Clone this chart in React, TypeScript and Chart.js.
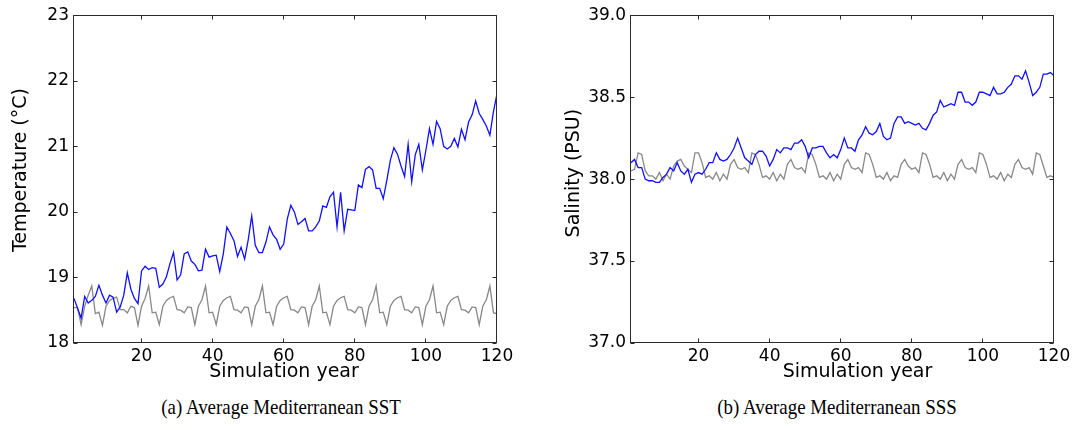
import React, { useEffect, useRef } from "react";
import { Chart, registerables } from "chart.js";

Chart.register(...registerables);

// ---------- data ----------
const years: number[] = Array.from({ length: 120 }, (_, i) => i + 1);
const xTickValues = [20, 40, 60, 80, 100, 120];
const tempTickValues = [18, 19, 20, 21, 22, 23];
const salTickValues = [37.0, 37.5, 38.0, 38.5, 39.0];

// Simulation SST (blue)
const sstSim = [
  18.68, 18.53, 18.38, 18.71, 18.61, 18.65, 18.71, 18.88, 18.73, 18.61,
  18.73, 18.70, 18.47, 18.55, 18.73, 19.07, 18.82, 18.68, 18.60, 19.10,
  19.17, 19.12, 19.15, 19.14, 18.85, 18.90, 19.01, 19.21, 19.38, 18.96,
  19.04, 19.36, 19.39, 19.25, 19.20, 19.10, 19.11, 19.43, 19.31, 19.33,
  19.34, 19.09, 19.36, 19.77, 19.67, 19.56, 19.32, 19.46, 19.28, 19.57,
  19.94, 19.49, 19.38, 19.38, 19.54, 19.77, 19.65, 19.58, 19.43, 19.51,
  19.89, 20.10, 20.00, 19.81, 19.85, 19.90, 19.71, 19.71, 19.77, 19.86,
  20.09, 20.07, 20.23, 20.30, 19.77, 20.30, 19.71, 20.04, 20.03, 20.02,
  20.41, 20.37, 20.65, 20.69, 20.64, 20.36, 20.36, 20.20, 20.48, 20.79,
  20.98, 20.88, 20.70, 20.54, 21.03, 20.46, 20.87, 21.03, 20.64, 20.94,
  21.27, 21.03, 21.38, 21.27, 21.00, 20.96, 21.00, 21.12, 20.99, 21.26,
  21.10, 21.37, 21.48, 21.69, 21.50, 21.41, 21.31, 21.17, 21.53, 21.80,
];

// Control SST (gray)
const sstCtrl = [
  18.54, 18.54, 18.28, 18.56, 18.73, 18.87, 18.45, 18.47, 18.27, 18.56,
  18.65, 18.68, 18.70, 18.51, 18.51, 18.46, 18.56, 18.54, 18.27, 18.56,
  18.68, 18.87, 18.46, 18.47, 18.28, 18.56, 18.65, 18.69, 18.71, 18.51,
  18.50, 18.46, 18.55, 18.54, 18.28, 18.56, 18.66, 18.87, 18.46, 18.47,
  18.28, 18.56, 18.65, 18.69, 18.71, 18.51, 18.50, 18.46, 18.55, 18.54,
  18.28, 18.56, 18.66, 18.87, 18.46, 18.47, 18.28, 18.56, 18.65, 18.69,
  18.71, 18.51, 18.50, 18.46, 18.55, 18.54, 18.28, 18.56, 18.66, 18.87,
  18.46, 18.47, 18.28, 18.56, 18.65, 18.69, 18.71, 18.51, 18.50, 18.46,
  18.55, 18.54, 18.28, 18.56, 18.66, 18.87, 18.46, 18.47, 18.28, 18.56,
  18.65, 18.69, 18.71, 18.51, 18.50, 18.46, 18.55, 18.54, 18.28, 18.56,
  18.66, 18.87, 18.46, 18.47, 18.28, 18.56, 18.65, 18.69, 18.71, 18.51,
  18.50, 18.46, 18.55, 18.54, 18.28, 18.56, 18.66, 18.87, 18.46, 18.45,
];

// Simulation SSS (blue)
const sssSim = [
  38.10, 38.12, 38.07, 38.07, 38.00, 37.99, 37.99, 37.98, 37.98, 38.01,
  38.03, 38.07, 38.05, 38.10, 38.05, 38.03, 38.06, 37.98, 38.03, 38.04,
  38.03, 38.06, 38.10, 38.10, 38.16, 38.12, 38.11, 38.12, 38.15, 38.19,
  38.25, 38.19, 38.13, 38.11, 38.09, 38.15, 38.17, 38.17, 38.14, 38.08,
  38.12, 38.18, 38.16, 38.19, 38.19, 38.18, 38.22, 38.22, 38.24, 38.20,
  38.13, 38.19, 38.19, 38.20, 38.20, 38.16, 38.13, 38.15, 38.13, 38.18,
  38.25, 38.19, 38.19, 38.17, 38.24, 38.27, 38.32, 38.28, 38.27, 38.29,
  38.34, 38.26, 38.24, 38.25, 38.34, 38.38, 38.38, 38.34, 38.35, 38.34,
  38.33, 38.34, 38.31, 38.30, 38.34, 38.39, 38.41, 38.48, 38.44, 38.45,
  38.46, 38.45, 38.53, 38.53, 38.47, 38.47, 38.45, 38.47, 38.53, 38.53,
  38.52, 38.51, 38.56, 38.52, 38.52, 38.53, 38.56, 38.58, 38.63, 38.63,
  38.61, 38.66, 38.59, 38.51, 38.53, 38.56, 38.64, 38.64, 38.65, 38.63,
];

// Control SSS (gray)
const sssCtrl = [
  38.05, 38.06, 38.16, 38.15, 38.05, 38.02, 38.02, 38.00, 38.04, 37.99,
  38.03, 38.00, 38.08, 38.11, 38.12, 38.08, 38.06, 38.04, 38.16, 38.16,
  38.10, 38.01, 38.02, 38.00, 38.04, 37.99, 38.03, 38.00, 38.09, 38.12,
  38.07, 38.06, 38.07, 38.04, 38.16, 38.15, 38.09, 38.01, 38.02, 38.00,
  38.04, 37.99, 38.03, 38.00, 38.09, 38.12, 38.07, 38.06, 38.07, 38.04,
  38.16, 38.15, 38.09, 38.01, 38.02, 38.00, 38.04, 37.99, 38.03, 38.00,
  38.09, 38.12, 38.07, 38.06, 38.07, 38.04, 38.16, 38.15, 38.09, 38.01,
  38.02, 38.00, 38.04, 37.99, 38.02, 38.01, 38.09, 38.12, 38.08, 38.06,
  38.07, 38.04, 38.16, 38.15, 38.09, 38.01, 38.02, 38.00, 38.04, 37.99,
  38.03, 38.00, 38.09, 38.12, 38.07, 38.06, 38.07, 38.04, 38.16, 38.15,
  38.09, 38.01, 38.02, 38.00, 38.04, 37.99, 38.03, 38.01, 38.09, 38.12,
  38.07, 38.06, 38.07, 38.03, 38.16, 38.15, 38.08, 38.01, 38.02, 38.01,
];

// ---------- plugins ----------
const frameTicksPlugin = {
  id: "frameTicks",
  afterDatasetsDraw(chart: any) {
    const { ctx, chartArea: a, scales } = chart;
    const L = Math.round(a.left) - 0.5;
    const R = Math.round(a.right) - 0.5;
    const T = Math.round(a.top) + 0.5;
    const B = Math.round(a.bottom) - 0.5;
    ctx.save();
    ctx.strokeStyle = "#2a2a2a";
    ctx.lineWidth = 1;
    ctx.strokeRect(L, T, R - L, B - T);
    ctx.beginPath();
    for (const t of scales.x.ticks) {
      const x = Math.round(scales.x.getPixelForValue(t.value)) - 0.5;
      ctx.moveTo(x, B);
      ctx.lineTo(x, B - 4);
      ctx.moveTo(x, T);
      ctx.lineTo(x, T + 4);
    }
    for (const t of scales.y.ticks) {
      const y = Math.round(scales.y.getPixelForValue(t.value)) + 0.5;
      ctx.moveTo(L, y);
      ctx.lineTo(L + 4, y);
      ctx.moveTo(R, y);
      ctx.lineTo(R - 4, y);
    }
    ctx.stroke();
    ctx.restore();
  },
};

const axisTitlesPlugin = {
  id: "axisTitles",
  afterDraw(chart: any, _args: any, opts: any) {
    const { ctx, chartArea: a } = chart;
    ctx.save();
    ctx.fillStyle = "#000";
    ctx.font = `${opts.size}px "DejaVu Sans"`;
    ctx.textAlign = "center";
    ctx.textBaseline = "alphabetic";
    ctx.fillText(opts.xText, (a.left + a.right) / 2 + opts.xdx, a.bottom + opts.xdy);
    ctx.translate(opts.yx, (a.top + a.bottom) / 2 + opts.ydy);
    ctx.rotate(-Math.PI / 2);
    ctx.fillText(opts.yText, 0, 0);
    ctx.restore();
  },
};

type PanelProps = {
  sim: number[];
  ctrl: number[];
  yMin: number;
  yMax: number;
  yTicks: number[];
  decimals: number;
  yTitle: string;
  width: number;
  height: number;
  axisWidth: number;
  rightPad: number;
  xdx: number;
  yx: number;
  ydy: number;
};

const TICK_FONT = { family: "'DejaVu Sans'", size: 17 };
const PLOT_TOP = 15;
const PLOT_BOTTOM = 343;

function Panel(p: PanelProps) {
  const ref = useRef<HTMLCanvasElement>(null);
  useEffect(() => {
    if (!ref.current) return;
    const chart = new Chart(ref.current, {
      type: "line",
      data: {
        datasets: [
          {
            data: years.map((x, i) => ({ x, y: p.sim[i] })),
            borderColor: "#1010ff",
            borderWidth: 1.3,
            pointRadius: 0,
            tension: 0,
            fill: false,
          },
          {
            data: years.map((x, i) => ({ x, y: p.ctrl[i] })),
            borderColor: "#888888",
            borderWidth: 1.3,
            pointRadius: 0,
            tension: 0,
            fill: false,
          },
        ],
      },
      options: {
        responsive: false,
        maintainAspectRatio: false,
        animation: false,
        devicePixelRatio: 1,
        events: [],
        layout: { padding: { top: PLOT_TOP, right: p.rightPad, left: 0, bottom: 0 } },
        plugins: {
          legend: { display: false },
          tooltip: { enabled: false },
          axisTitles: {
            size: 19,
            xText: "Simulation year",
            xdx: p.xdx,
            xdy: 34,
            yText: p.yTitle,
            yx: p.yx,
            ydy: p.ydy,
          },
        } as any,
        scales: {
          x: {
            type: "linear",
            min: 1,
            max: 120,
            grid: { display: false, drawTicks: false },
            border: { display: false },
            afterBuildTicks: (s: any) => {
              s.ticks = xTickValues.map((v) => ({ value: v }));
            },
            afterFit: (s: any) => {
              s.height = p.height - PLOT_BOTTOM;
            },
            ticks: {
              font: TICK_FONT,
              color: "#000",
              padding: 3,
              maxRotation: 0,
              autoSkip: false,
              callback: (v: any) => String(v),
            },
          },
          y: {
            type: "linear",
            min: p.yMin,
            max: p.yMax,
            grid: { display: false, drawTicks: false },
            border: { display: false },
            afterBuildTicks: (s: any) => {
              s.ticks = p.yTicks.map((v) => ({ value: v }));
            },
            afterFit: (s: any) => {
              s.width = p.axisWidth;
            },
            ticks: {
              font: TICK_FONT,
              color: "#000",
              padding: 5,
              autoSkip: false,
              callback: (v: any) => Number(v).toFixed(p.decimals),
            },
          },
        },
      },
      plugins: [frameTicksPlugin, axisTitlesPlugin],
    });
    return () => chart.destroy();
  }, []);
  return (
    <canvas
      ref={ref}
      width={p.width}
      height={p.height}
      style={{ width: p.width, height: p.height, display: "block" }}
    />
  );
}

const captionStyle: React.CSSProperties = {
  position: "absolute",
  top: 395,
  transform: "translateX(-50%) scaleX(0.9)",
  whiteSpace: "nowrap",
  fontFamily: "'Liberation Serif', 'Times New Roman', serif",
  fontSize: 21,
  lineHeight: "24px",
  color: "#000",
};

export default function App() {
  return (
    <div
      style={{
        position: "fixed",
        left: 0,
        top: 0,
        width: 1075,
        height: 430,
        background: "#fff",
        overflow: "hidden",
      }}
    >
      <div style={{ position: "absolute", left: 0, top: 0 }}>
        <Panel
          sim={sstSim}
          ctrl={sstCtrl}
          yMin={18}
          yMax={23}
          yTicks={tempTickValues}
          decimals={0}
          yTitle="Temperature (°C)"
          width={540}
          height={390}
          axisWidth={74}
          rightPad={43}
          xdx={-1.5}
          yx={26}
          ydy={-9}
        />
      </div>
      <div style={{ position: "absolute", left: 540, top: 0 }}>
        <Panel
          sim={sssSim}
          ctrl={sssCtrl}
          yMin={37}
          yMax={39}
          yTicks={salTickValues}
          decimals={1}
          yTitle="Salinity (PSU)"
          width={535}
          height={390}
          axisWidth={91}
          rightPad={21}
          xdx={15}
          yx={38.5}
          ydy={-6}
        />
      </div>
      <div style={{ ...captionStyle, left: 281 }}>(a) Average Mediterranean SST</div>
      <div style={{ ...captionStyle, left: 837 }}>(b) Average Mediterranean SSS</div>
    </div>
  );
}
